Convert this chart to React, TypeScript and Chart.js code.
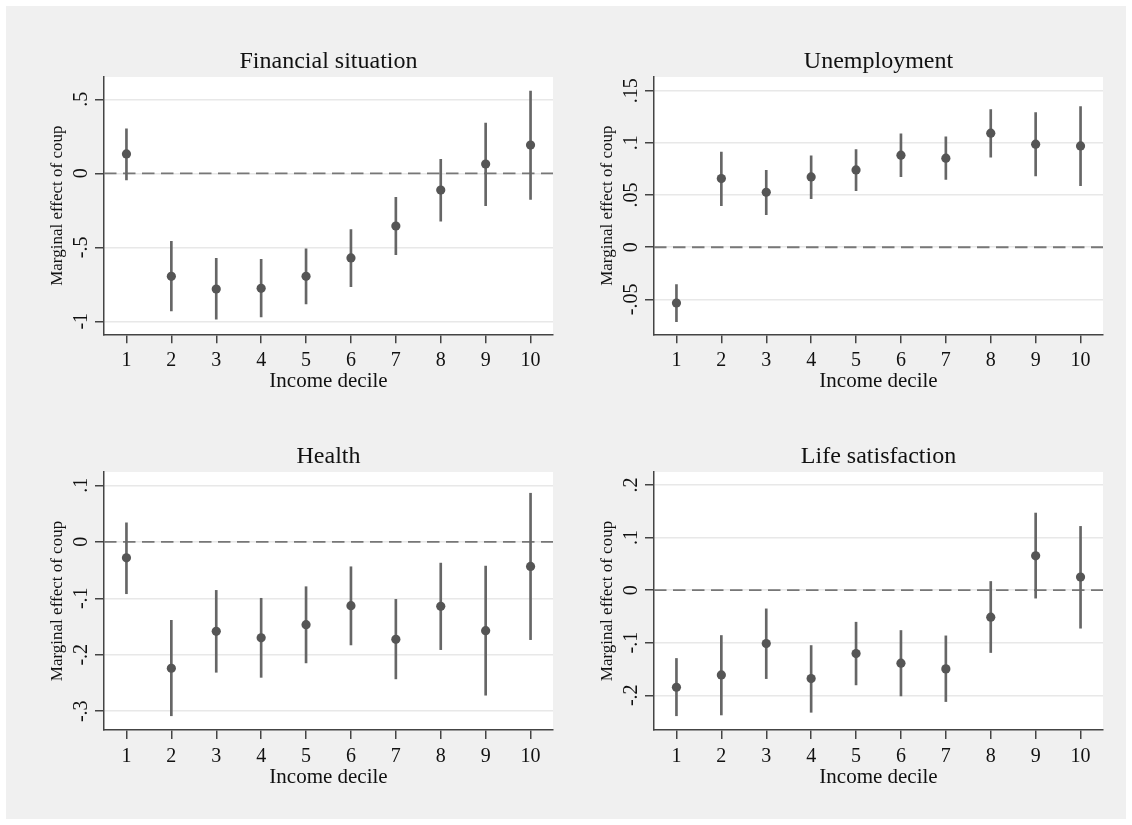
import { useEffect, useRef } from "react";
import { Chart, registerables } from "chart.js";

Chart.register(...registerables);

// ---------- data ----------
const deciles = [1, 2, 3, 4, 5, 6, 7, 8, 9, 10];
const xTickLabels = ["1", "2", "3", "4", "5", "6", "7", "8", "9", "10"];
const xRange = [0.5, 10.5];

const finEst = [0.131, -0.696, -0.782, -0.777, -0.696, -0.572, -0.356, -0.113, 0.063, 0.191];
const finLo = [-0.045, -0.93, -0.986, -0.971, -0.883, -0.766, -0.55, -0.324, -0.218, -0.176];
const finHi = [0.3, -0.459, -0.574, -0.581, -0.511, -0.381, -0.162, 0.095, 0.34, 0.556];
const finTicks = [0.5, 0, -0.5, -1];
const finTickLabels = [".5", "0", "-.5", "-1"];
const finRange = [-1.088, 0.651];

const unEst = [-0.0534, 0.0658, 0.0527, 0.0674, 0.0741, 0.0882, 0.0853, 0.1093, 0.0987, 0.0971];
const unLo = [-0.0712, 0.0399, 0.0313, 0.0466, 0.0543, 0.0677, 0.0649, 0.0863, 0.0684, 0.0591];
const unHi = [-0.0358, 0.0911, 0.0738, 0.0875, 0.0936, 0.1086, 0.1058, 0.1319, 0.1291, 0.1348];
const unTicks = [0.15, 0.1, 0.05, 0, -0.05];
const unTickLabels = [".15", ".1", ".05", "0", "-.05"];
const unRange = [-0.0834, 0.1631];

const healthEst = [-0.0283, -0.2239, -0.1585, -0.17, -0.1467, -0.1131, -0.1726, -0.1143, -0.1573, -0.0436];
const healthLo = [-0.0919, -0.308, -0.231, -0.24, -0.2144, -0.1826, -0.2427, -0.1909, -0.2716, -0.1732];
const healthHi = [0.0336, -0.139, -0.086, -0.1, -0.0795, -0.0442, -0.1019, -0.0377, -0.043, 0.086];
const healthTicks = [0.1, 0, -0.1, -0.2, -0.3];
const healthTickLabels = [".1", "0", "-.1", "-.2", "-.3"];
const healthRange = [-0.3332, 0.1236];

const lifeEst = [-0.1848, -0.1613, -0.1016, -0.1683, -0.1206, -0.139, -0.1498, -0.0514, 0.0654, 0.0248];
const lifeLo = [-0.239, -0.2375, -0.1683, -0.2324, -0.1803, -0.2013, -0.212, -0.1187, -0.0152, -0.0724];
const lifeHi = [-0.13, -0.0863, -0.0356, -0.1054, -0.061, -0.0768, -0.087, 0.0165, 0.1467, 0.1213];
const lifeTicks = [0.2, 0.1, 0, -0.1, -0.2];
const lifeTickLabels = [".2", ".1", "0", "-.1", "-.2"];
const lifeRange = [-0.2661, 0.2248];

const zeroLineY = [0, 0];
const xTitle = "Income decile";
const yTitle = "Marginal effect of coup";

// ---------- styling ----------
const FONT = '"Liberation Serif", "Times New Roman", "DejaVu Serif", serif';
const TEXT = "#111111";
const MARKER = "#555555";
const BAR = "#666666";
const DASH = "#777777";
const GRID = "#e8e8e8";
const AXIS = "#444444";
const BG = "#f0f0f0";

type Spec = {
  title: string;
  est: number[];
  lo: number[];
  hi: number[];
  ticks: number[];
  tickLabels: string[];
  range: number[];
  left: number;
  top: number;
  w: number;
  h: number;
  areaL: number;
  areaT: number;
  areaR: number;
  areaB: number;
};

const panels: Spec[] = [
  { title: "Financial situation", est: finEst, lo: finLo, hi: finHi, ticks: finTicks, tickLabels: finTickLabels, range: finRange,
    left: 6, top: 6, w: 560, h: 400, areaL: 98, areaT: 71, areaR: 547, areaB: 328.3 },
  { title: "Unemployment", est: unEst, lo: unLo, hi: unHi, ticks: unTicks, tickLabels: unTickLabels, range: unRange,
    left: 566, top: 6, w: 560, h: 400, areaL: 88, areaT: 71, areaR: 537, areaB: 328.3 },
  { title: "Health", est: healthEst, lo: healthLo, hi: healthHi, ticks: healthTicks, tickLabels: healthTickLabels, range: healthRange,
    left: 6, top: 406, w: 560, h: 413, areaL: 98, areaT: 66, areaR: 547, areaB: 324 },
  { title: "Life satisfaction", est: lifeEst, lo: lifeLo, hi: lifeHi, ticks: lifeTicks, tickLabels: lifeTickLabels, range: lifeRange,
    left: 566, top: 406, w: 560, h: 413, areaL: 88, areaT: 66, areaR: 537, areaB: 324 },
];

function Panel({ spec }: { spec: Spec }) {
  const ref = useRef<HTMLCanvasElement>(null);
  useEffect(() => {
    const canvas = ref.current;
    if (!canvas) return;

    const textPlugin = {
      id: "stataText",
      beforeDraw(chart: any) {
        const { ctx, chartArea: a } = chart;
        ctx.save();
        ctx.fillStyle = "#ffffff";
        ctx.fillRect(a.left, a.top, a.right - a.left, a.bottom - a.top);
        ctx.restore();
      },
      afterDraw(chart: any) {
        const { ctx, chartArea: a } = chart;
        const xs = chart.scales.x;
        const ys = chart.scales.y;
        ctx.save();
        ctx.fillStyle = TEXT;
        // title
        ctx.font = `24px ${FONT}`;
        ctx.textAlign = "center";
        ctx.textBaseline = "alphabetic";
        ctx.fillText(spec.title, (a.left + a.right) / 2, a.top - 9);
        // x tick labels
        ctx.font = `20px ${FONT}`;
        deciles.forEach((d, i) => {
          ctx.fillText(xTickLabels[i], xs.getPixelForValue(d), a.bottom + 32);
        });
        // x title
        ctx.font = `21px ${FONT}`;
        ctx.fillText(xTitle, (a.left + a.right) / 2, a.bottom + 53);
        // y tick labels (rotated)
        ctx.font = `20px ${FONT}`;
        spec.ticks.forEach((v, i) => {
          ctx.save();
          ctx.translate(a.left - 17, ys.getPixelForValue(v));
          ctx.rotate(-Math.PI / 2);
          ctx.fillText(spec.tickLabels[i], 0, 0);
          ctx.restore();
        });
        // y title
        ctx.font = `17px ${FONT}`;
        ctx.save();
        ctx.translate(a.left - 42.5, (a.top + a.bottom) / 2);
        ctx.rotate(-Math.PI / 2);
        ctx.fillText(yTitle, 0, 0);
        ctx.restore();
        ctx.restore();
      },
    };

    const chart = new Chart(canvas, {
      type: "bar",
      data: {
        datasets: [
          {
            type: "scatter",
            data: deciles.map((d, i) => ({ x: d, y: spec.est[i] })),
            pointRadius: 4.6,
            pointBackgroundColor: MARKER,
            pointBorderWidth: 0,
            pointBorderColor: MARKER,
            order: 1,
          } as any,
          {
            type: "bar",
            data: deciles.map((d, i) => ({ x: d, y: [spec.lo[i], spec.hi[i]] })),
            backgroundColor: BAR,
            borderWidth: 0,
            barThickness: 2,
            borderSkipped: false,
            order: 2,
          } as any,
          {
            type: "line",
            data: xRange.map((x, i) => ({ x, y: zeroLineY[i] })),
            borderColor: DASH,
            borderWidth: 1.8,
            borderDash: [12.5, 6.5],
            pointRadius: 0,
            fill: false,
            order: 3,
          } as any,
        ],
      },
      options: {
        animation: false,
        responsive: false,
        maintainAspectRatio: false,
        layout: { padding: { left: 0, top: spec.areaT, right: spec.w - spec.areaR, bottom: 0 } },
        plugins: { legend: { display: false }, tooltip: { enabled: false }, title: { display: false } },
        scales: {
          x: {
            type: "linear",
            min: xRange[0],
            max: xRange[1],
            offset: false,
            afterBuildTicks: (s: any) => {
              s.ticks = deciles.map((v) => ({ value: v }));
            },
            afterFit: (s: any) => {
              s.height = spec.h - spec.areaB;
              s.paddingLeft = 0;
              s.paddingRight = 0;
            },
            ticks: { display: false },
            grid: {
              display: true,
              offset: false,
              drawOnChartArea: false,
              drawTicks: true,
              tickLength: 9,
              tickColor: AXIS,
              tickWidth: 1.5,
              lineWidth: 1.5,
            },
            border: { display: true, color: AXIS, width: 1.5 },
          },
          y: {
            type: "linear",
            min: spec.range[0],
            max: spec.range[1],
            afterBuildTicks: (s: any) => {
              s.ticks = spec.ticks.map((v) => ({ value: v }));
            },
            afterFit: (s: any) => {
              s.width = spec.areaL;
              s.paddingTop = 0;
              s.paddingBottom = 0;
            },
            ticks: { display: false },
            grid: {
              display: true,
              offset: false,
              drawOnChartArea: true,
              color: GRID,
              lineWidth: 1.5,
              drawTicks: true,
              tickLength: 9,
              tickColor: AXIS,
              tickWidth: 1.5,
            },
            border: { display: true, color: AXIS, width: 1.5 },
          },
        },
      } as any,
      plugins: [textPlugin],
    });
    return () => chart.destroy();
  }, [spec]);

  return (
    <canvas
      ref={ref}
      width={spec.w}
      height={spec.h}
      style={{ position: "absolute", left: spec.left, top: spec.top, width: spec.w, height: spec.h }}
    />
  );
}

export default function App() {
  return (
    <div style={{ position: "fixed", left: 0, top: 0, width: 1132, height: 825, background: "#ffffff" }}>
      <div style={{ position: "absolute", left: 6, top: 6, width: 1120, height: 813, background: BG }} />
      {panels.map((p) => (
        <Panel key={p.title} spec={p} />
      ))}
    </div>
  );
}
